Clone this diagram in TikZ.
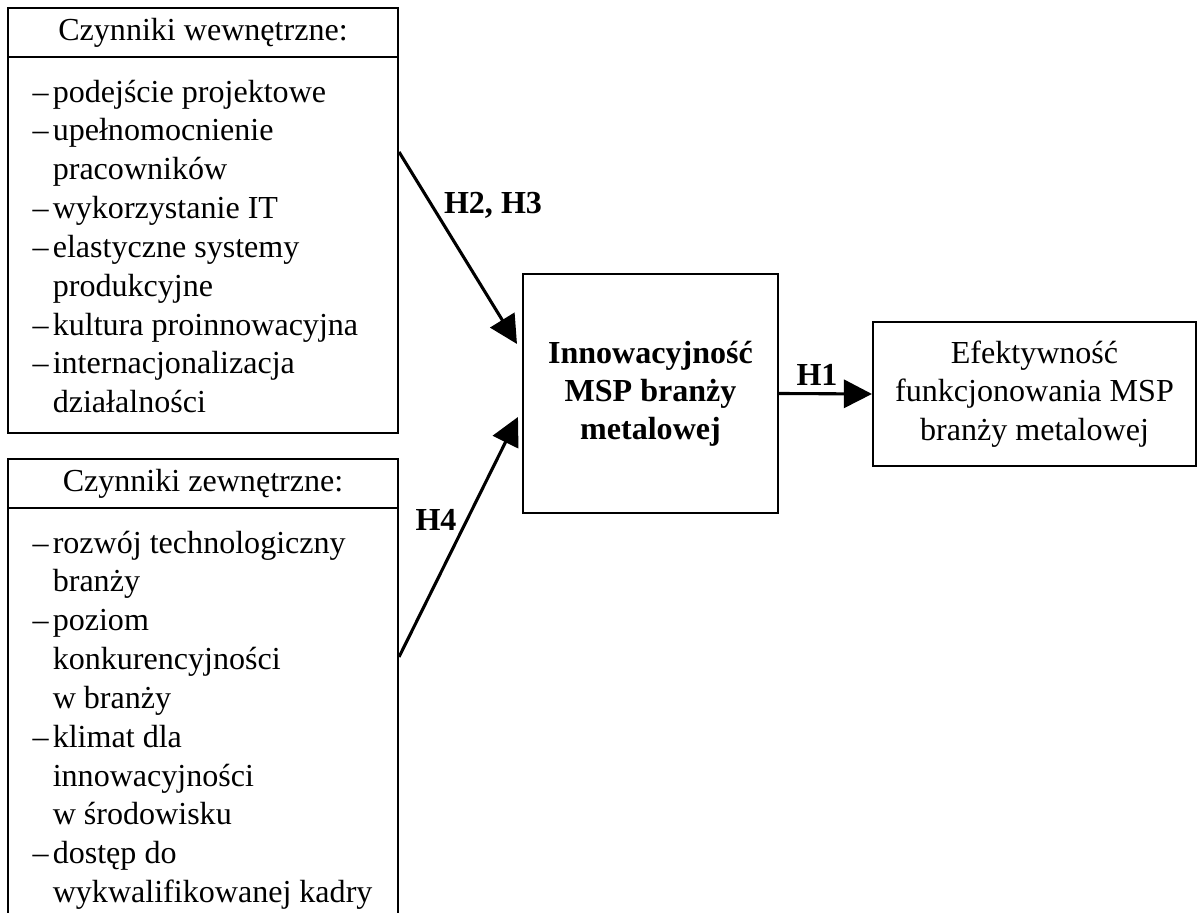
\documentclass[tikz,border=0pt]{standalone}
\usepackage{fontspec}
\setmainfont{Liberation Serif}
\usetikzlibrary{arrows.meta, calc}
\newcommand{\pkt}{\makebox[7.2pt][l]{\textendash}}
\newcommand{\wc}{\hspace*{7.2pt}}

\begin{document}
\begin{tikzpicture}[x=0.0125cm, y=-0.0125cm,
    every node/.style={font=\fontsize{11.4}{13.8}\selectfont},
    ramka/.style={draw, line width=0.7pt, inner sep=0pt},
    naglowek/.style={ramka, minimum width=4.875cm, minimum height=0.6125cm, anchor=north},
    lista/.style={align=left, anchor=north west, inner xsep=8.9pt, inner ysep=7.6pt},
    strzalka/.style={line width=1.1pt, -{Triangle[length=10pt, width=10pt]}},
    hip/.style={font=\fontsize{11.4}{13.8}\selectfont\bfseries}]
    \useasboundingbox (0,0) rectangle (1204,913);
    \clip (0,0) rectangle (1204,913);

    % Czynniki wewnetrzne
    \node[ramka, minimum width=4.875cm, minimum height=5.3125cm] (wew) at (203,220.5) {};
    \node[naglowek] (wewH) at (wew.north) {Czynniki wewnętrzne:};
    \node[lista] (wewL) at (wewH.south west) {\pkt podejście projektowe\\
        \pkt upełnomocnienie\\ \wc pracowników\\
        \pkt wykorzystanie IT\\
        \pkt elastyczne systemy\\ \wc produkcyjne\\
        \pkt kultura proinnowacyjna\\
        \pkt internacjonalizacja\\ \wc działalności};

    % Czynniki zewnetrzne
    \node[ramka, minimum width=4.875cm, minimum height=6.2625cm] (zew) at (203,709.5) {};
    \node[naglowek] (zewH) at (zew.north) {Czynniki zewnętrzne:};
    \node[lista] (zewL) at (zewH.south west) {\pkt rozwój technologiczny\\ \wc branży\\
        \pkt poziom\\ \wc konkurencyjności\\ \wc w branży\\
        \pkt klimat dla\\ \wc innowacyjności\\ \wc w środowisku\\
        \pkt dostęp do\\ \wc wykwalifikowanej kadry};

    % Innowacyjnosc i efektywnosc
    \node[ramka, minimum width=3.1875cm, minimum height=2.9875cm, align=center,
        font=\fontsize{11.4}{13.5}\selectfont\bfseries] (inn) at (650.5,393.5)
        {Innowacyjność\\MSP branży\\metalowej};
    \node[ramka, minimum width=4.0375cm, minimum height=1.8cm, align=center] (efe) at (1034.5,394)
        {Efektywność\\funkcjonowania MSP\\branży metalowej};

    % Hipotezy
    \coordinate (p23) at ($(wew.north east)+(0,145)$);
    \coordinate (k23) at ($(inn.north west)+(-5,71)$);
    \coordinate (p4) at ($(zew.north east)+(0,199)$);
    \coordinate (k4) at ($(inn.north west)+(-4,144)$);
    \draw[strzalka] (p23) -- (k23);
    \draw[strzalka] (p4) -- (k4);
    \draw[strzalka] (inn.east) -- (efe.west);
    \node[hip] (h23) at (493,205) {H2, H3};
    \node[hip] (h4) at (436,520) {H4};
    \node[hip] (h1) at (817,375) {H1};
\end{tikzpicture}
\end{document}
